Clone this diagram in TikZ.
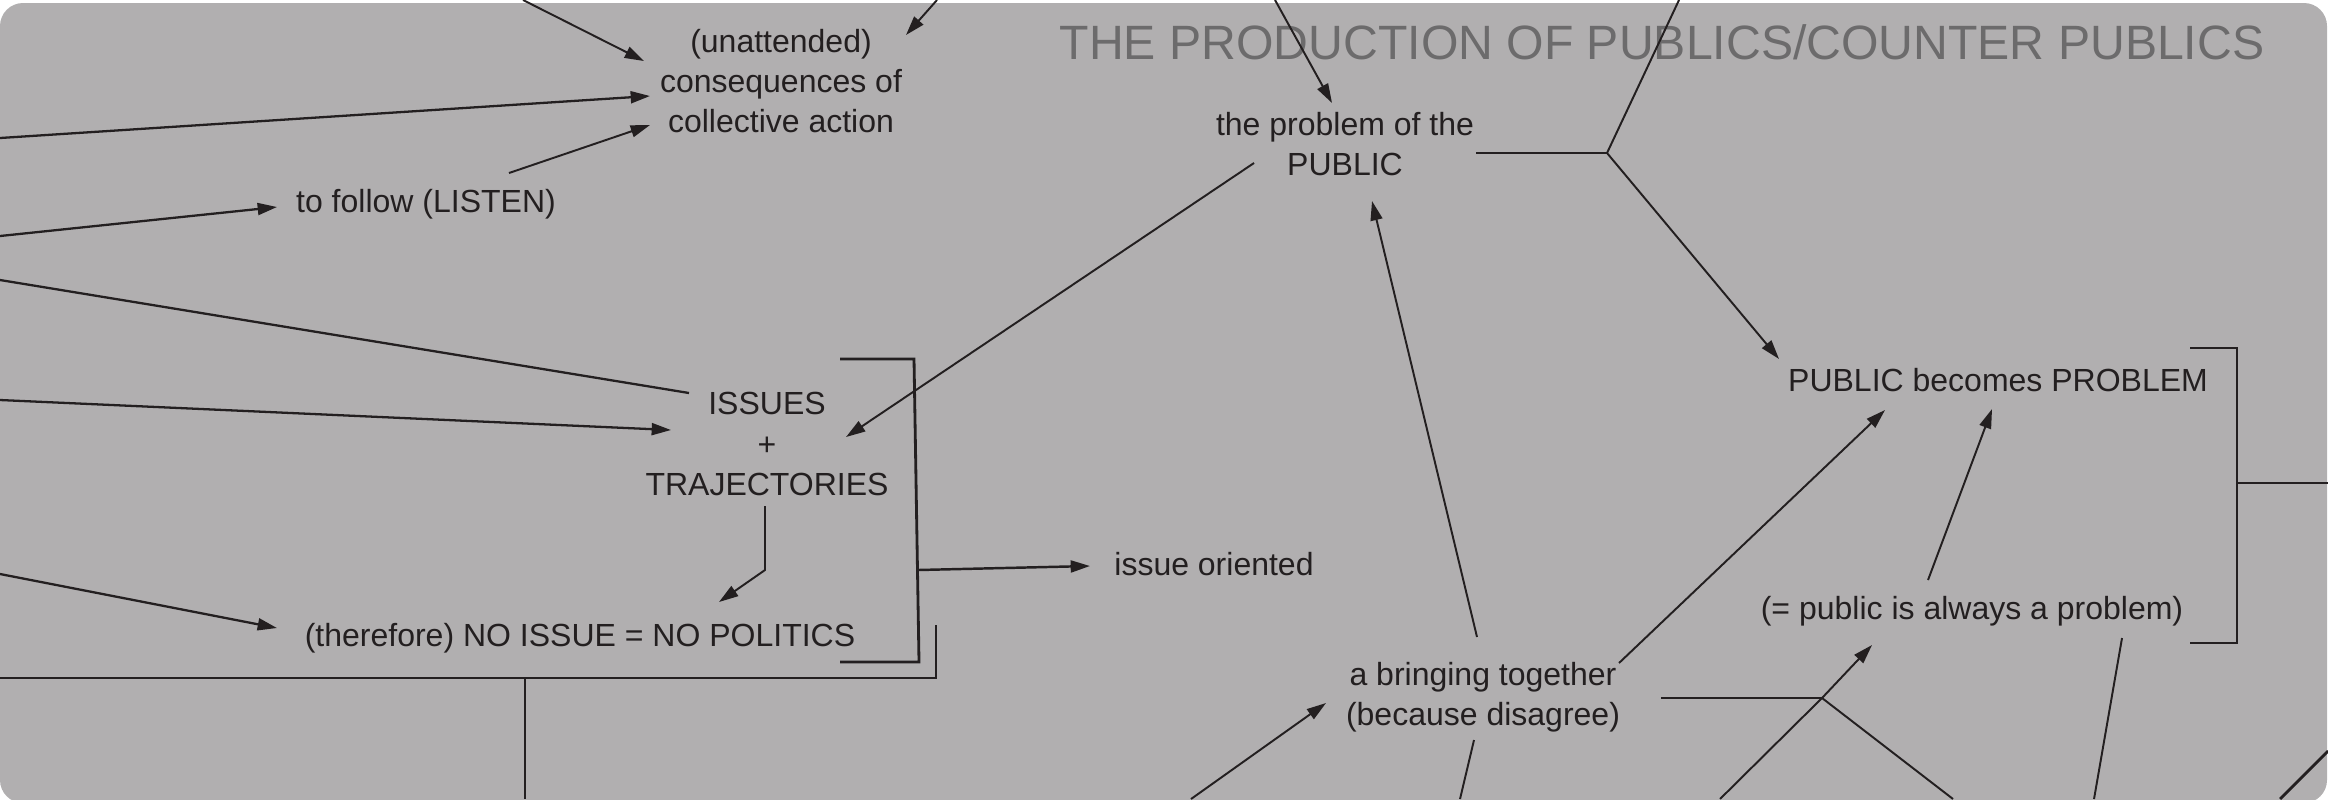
\documentclass[tikz,border=0pt]{standalone}
\usepackage{fontspec}
\setmainfont{Liberation Sans}
\usetikzlibrary{arrows.meta}
\definecolor{bgc}{RGB}{177,175,176}
\definecolor{linec}{RGB}{35,31,32}
\definecolor{titlec}{RGB}{108,107,108}
\begin{document}
\begin{tikzpicture}[x=0.01cm,y=-0.01cm,
  lbl/.style={inner sep=0pt, align=center, text=linec, font=\fontsize{9.1pt}{11.4pt}\selectfont},
  ttl/.style={inner sep=0pt, text=titlec, font=\fontsize{13.7pt}{16pt}\selectfont},
  conn/.style={draw=linec, line width=0.55pt},
  heavy/.style={draw=linec, line width=0.8pt},
  arr/.style={conn, -{Triangle[length=5.5pt,width=3.4pt]}}]
\useasboundingbox (0,0) rectangle (2328,799);
\fill[bgc, rounded corners=0.23cm] (0,3) rectangle (2327,803);
\clip (0,0) rectangle (2328,799);

% text nodes
\node[ttl] (title) at (1662,42) {THE PRODUCTION OF PUBLICS/COUNTER PUBLICS};
\node[lbl] (cons) at (781,81) {(unattended)\\consequences of\\collective action};
\node[lbl] (follow) at (426,204) {to follow (LISTEN)};
\node[lbl] (prob) at (1345,144) {the problem of the\\PUBLIC};
\node[lbl] (issues) at (767,444) {ISSUES\\+\\TRAJECTORIES};
\node[lbl] (pbp) at (1998,380) {PUBLIC becomes PROBLEM};
\node[lbl] (noissue) at (580,638) {(therefore) NO ISSUE = NO POLITICS};
\node[lbl] (orient) at (1214,564) {issue oriented};
\node[lbl] (always) at (1972,611) {(= public is always a problem)};
\node[lbl] (bring) at (1483,697) {a bringing together\\(because disagree)};

% coordinates
\coordinate (a0) at (523,0);   \coordinate (a1) at (644,61);
\coordinate (b0) at (937,0);   \coordinate (b1) at (906,35);
\coordinate (c0) at (0,138);   \coordinate (c1) at (650,96);
\coordinate (d0) at (509,173); \coordinate (d1) at (650,125);
\coordinate (e0) at (0,236);   \coordinate (e1) at (277,207);
\coordinate (f0) at (0,280);   \coordinate (f1) at (689,393);
\coordinate (g0) at (0,400);   \coordinate (g1) at (671,430);
\coordinate (h0) at (0,574);   \coordinate (h1) at (277,628);
\coordinate (i0) at (1254,163);\coordinate (i1) at (846,437);
\coordinate (j0) at (1275,0);  \coordinate (j1) at (1332,103);
\coordinate (k0) at (1476,153);\coordinate (k1) at (1607,153);
\coordinate (k2) at (1679,0);  \coordinate (k3) at (1779,359);
\coordinate (l0) at (1477,637);\coordinate (l1) at (1372,201);
\coordinate (m0) at (1619,663);\coordinate (m1) at (1885,410);
\coordinate (n0) at (1928,580);\coordinate (n1) at (1992,409);
\coordinate (o0) at (2190,348);\coordinate (o1) at (2237,348);
\coordinate (o2) at (2237,643);\coordinate (o3) at (2190,643);
\coordinate (o4) at (2237,483);\coordinate (o5) at (2328,483);
\coordinate (p0) at (2122,638);\coordinate (p1) at (2094,799);
\coordinate (q0) at (2328,751);\coordinate (q1) at (2280,799);
\coordinate (r0) at (840,359); \coordinate (r1) at (914,359);
\coordinate (r2) at (919,662); \coordinate (r3) at (840,662);
\coordinate (r4) at (918,570); \coordinate (r5) at (1090,566);
\coordinate (s0) at (765,506); \coordinate (s1) at (765,570);
\coordinate (s2) at (719,602);
\coordinate (t0) at (0,678);   \coordinate (t1) at (936,678);
\coordinate (t2) at (936,625); \coordinate (t3) at (525,678);
\coordinate (t4) at (525,799);
\coordinate (u0) at (1661,698);\coordinate (u1) at (1822,698);
\coordinate (u2) at (1872,645);\coordinate (u3) at (1720,799);
\coordinate (u4) at (1953,799);
\coordinate (v0) at (1191,799);\coordinate (v1) at (1326,703);
\coordinate (w0) at (1474,740);\coordinate (w1) at (1460,799);

% connectors
\draw[arr] (a0) -- (a1);
\draw[arr] (b0) -- (b1);
\draw[arr, line width=0.65pt] (c0) -- (c1);
\draw[arr] (d0) -- (d1);
\draw[arr, line width=0.65pt] (e0) -- (e1);
\draw[conn, line width=0.65pt] (f0) -- (f1);
\draw[arr, line width=0.65pt] (g0) -- (g1);
\draw[arr, line width=0.65pt] (h0) -- (h1);
\draw[arr] (i0) -- (i1);
\draw[arr] (j0) -- (j1);
\draw[heavy] (k0) -- (k1);
\draw[conn] (k1) -- (k2);
\draw[arr] (k1) -- (k3);
\draw[arr] (l0) -- (l1);
\draw[arr] (m0) -- (m1);
\draw[arr] (n0) -- (n1);
\draw[heavy] (o0) -- (o1) -- (o2) -- (o3);
\draw[heavy] (o4) -- (o5);
\draw[conn] (p0) -- (p1);
\draw[heavy] (q0) -- (q1);
\draw[heavy] (r0) -- (r1) -- (r2) -- (r3);
\draw[arr, line width=0.7pt] (r4) -- (r5);
\draw[arr] (s0) -- (s1) -- (s2);
\draw[heavy] (t0) -- (t1) -- (t2);
\draw[conn] (t3) -- (t4);
\draw[heavy] (u0) -- (u1);
\draw[arr] (u1) -- (u2);
\draw[conn] (u1) -- (u3);
\draw[conn] (u1) -- (u4);
\draw[arr] (v0) -- (v1);
\draw[conn] (w0) -- (w1);
\end{tikzpicture}
\end{document}
